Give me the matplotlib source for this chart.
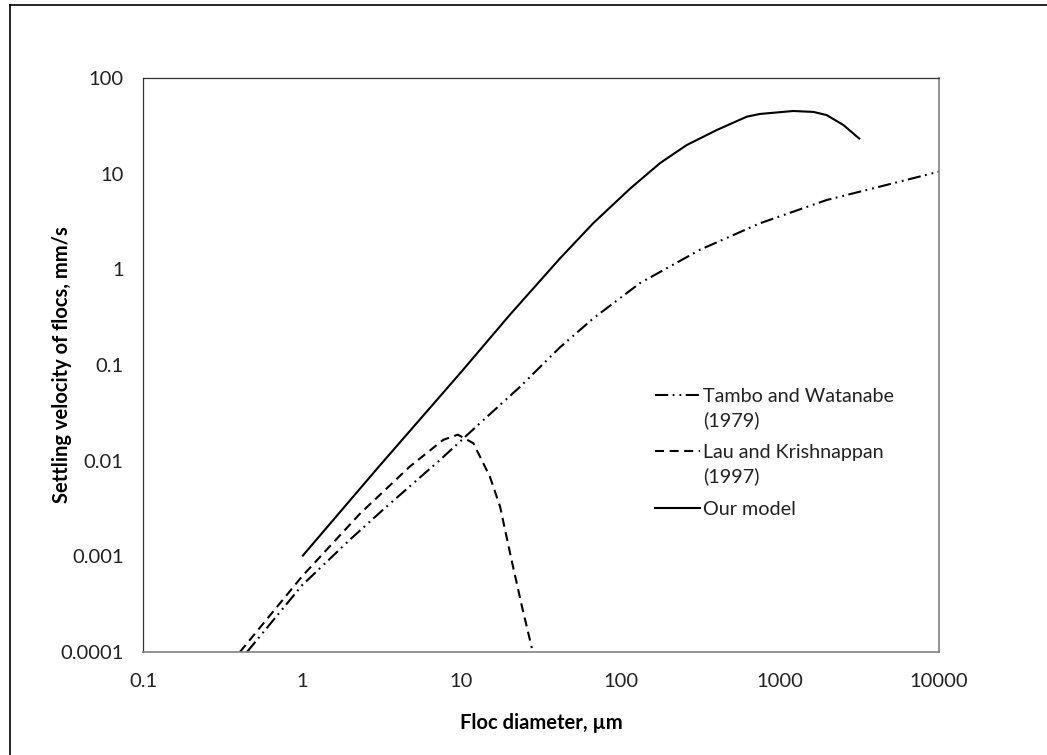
import matplotlib
matplotlib.use("Agg")
import matplotlib.pyplot as plt
from matplotlib.lines import Line2D

# Floc diameter (um) and settling velocity (mm/s) for each curve
tambo_d = [0.45, 1.0, 2.0, 3.24, 7.35, 13.1, 23.3, 41.6, 67.5, 132, 315, 751, 1967, 5160, 10000]
tambo_w = [0.0001, 0.00050, 0.0015, 0.0031, 0.0102, 0.0247, 0.059, 0.153, 0.308, 0.716, 1.60, 3.03, 5.3, 7.94, 10.5]

lau_d = [0.406, 1.0, 2.31, 4.75, 7.69, 9.5, 11.9, 15.1, 17.5, 20.7, 24.0, 27.7]
lau_w = [0.0001, 0.00062, 0.0028, 0.0087, 0.0165, 0.0187, 0.0152, 0.0068, 0.0033, 0.0009, 0.0003, 0.00011]

model_d = [1, 3, 10, 20, 41.6, 67.5, 115, 177, 260, 402, 620, 751, 1216, 1626, 1967, 2506, 3190]
model_w = [0.001, 0.0085, 0.085, 0.33, 1.30, 3.05, 7.0, 12.9, 19.9, 28.6, 39.4, 42.1, 45.2, 44.2, 41.0, 32.3, 22.9]

x_ticks = [0.1, 1, 10, 100, 1000, 10000]
x_tick_labels = ["0.1", "1", "10", "100", "1000", "10000"]
y_ticks = [0.0001, 0.001, 0.01, 0.1, 1, 10, 100]
y_tick_labels = ["0.0001", "0.001", "0.01", "0.1", "1", "10", "100"]

series_labels = ["Tambo and Watanabe\n(1979)", "Lau and Krishnappan\n(1997)", "Our model"]

plt.rcParams["font.family"] = ["Lato", "DejaVu Sans"]
plt.rcParams["lines.scale_dashes"] = False

W, H = 1047, 755
fig = plt.figure(figsize=(W / 100, H / 100), dpi=100)
ax = fig.add_axes([143 / W, 1 - 652 / H, 796 / W, 574 / H])

dash_dot_dot = (0, (9.5, 3.2, 1.3, 3.6, 1.3, 3.2))
dashed = (0, (6.5, 4.0))
lw = 1.5

ax.plot(tambo_d, tambo_w, color="black", lw=lw, linestyle=dash_dot_dot,
        dash_capstyle="butt", solid_joinstyle="round")
ax.plot(lau_d, lau_w, color="black", lw=lw, linestyle=dashed,
        dash_capstyle="butt")
ax.plot(model_d, model_w, color="black", lw=lw, linestyle="-",
        solid_capstyle="butt", solid_joinstyle="round")

ax.set_xscale("log")
ax.set_yscale("log")
ax.set_xlim(0.1, 10000)
ax.set_ylim(0.0001, 100)
ax.set_xticks(x_ticks)
ax.set_xticklabels(x_tick_labels)
ax.set_yticks(y_ticks)
ax.set_yticklabels(y_tick_labels)
ax.minorticks_off()
ax.tick_params(axis="both", length=0, labelsize=14.5, colors="#222222")
ax.tick_params(axis="x", pad=15)
ax.tick_params(axis="y", pad=14)

for side in ("left", "top"):
    ax.spines[side].set_color("#333333")
    ax.spines[side].set_linewidth(0.9)
for side in ("right", "bottom"):
    ax.spines[side].set_color("#808080")
    ax.spines[side].set_linewidth(1.2)

ax.set_xlabel("Floc diameter, µm", fontsize=14.5, fontweight="bold")
ax.set_ylabel("Settling velocity of flocs, mm/s", fontsize=14.5, fontweight="bold")
ax.xaxis.set_label_coords(0.5, -(713 - 652) / 574)
ax.yaxis.set_label_coords(-(143 - 72) / 796, 0.5)


def fx(px):
    return px / W


def fy(py):
    return 1 - py / H


# Legend drawn in figure coordinates
legend_rows = [
    (395, dash_dot_dot, series_labels[0]),
    (451, dashed, series_labels[1]),
    (508, "-", series_labels[2]),
]
for row_y, style, label in legend_rows:
    fig.add_artist(Line2D([fx(655), fx(700)], [fy(row_y), fy(row_y)], color="black",
                          lw=lw, linestyle=style, dash_capstyle="butt"))
    fig.text(fx(703), fy(row_y - 7), label, fontsize=14.2, color="#222222",
             ha="left", va="top", linespacing=1.45)

# Outer frame of the figure
fig.add_artist(Line2D([fx(9.5), fx(9.5)], [fy(5), fy(H + 5)], color="black", lw=1.2))
fig.add_artist(Line2D([fx(9.5), fx(W + 5)], [fy(5), fy(5)], color="black", lw=1.2))

fig.savefig("out.png", dpi=100)
